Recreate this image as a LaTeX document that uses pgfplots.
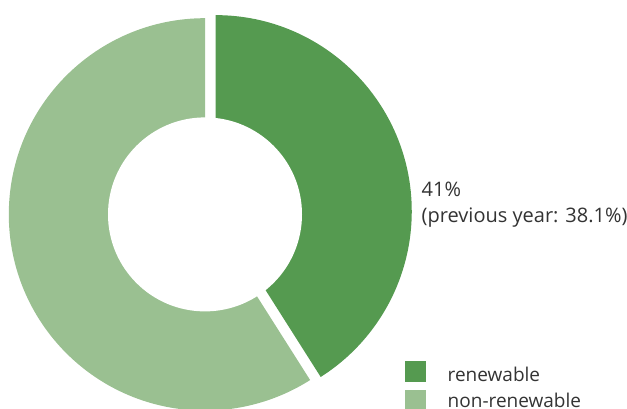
\documentclass[border=0pt]{standalone}
\usepackage{pgfplots}
\pgfplotsset{compat=1.18}
\usepackage{pgfplotstable}
\usepackage{fontspec}
\setmainfont{Open Sans}
\definecolor{renew}{HTML}{559A50}
\definecolor{nonrenew}{HTML}{9AC091}
\definecolor{txt}{HTML}{333333}

\pgfplotstableread{
label value
renewable 41
nonrenewable 59
}\piedata

\begin{document}%
\begin{tikzpicture}[x=1pt,y=1pt]
\pgfplotstablegetelem{0}{value}\of\piedata \let\vR\pgfplotsretval
\pgfplotstablegetelem{1}{value}\of\piedata \let\vN\pgfplotsretval
\pgfmathsetmacro\angR{\vR/(\vR+\vN)*360}
\pgfmathsetmacro\angN{\vN/(\vR+\vN)*360}
\pgfmathsetmacro\midR{90-\angR/2}
\pgfmathsetmacro\exX{205+11*cos(\midR)}
\pgfmathsetmacro\exY{194.6+11*sin(\midR)}
\begin{axis}[
  at={(0,0)}, anchor=south west,
  scale only axis, width=627pt, height=409pt,
  xmin=0, xmax=627, ymin=0, ymax=409,
  hide axis,
]
% non-renewable slice
\fill[nonrenew] (axis cs:205,194.6) -- +(90:196.2pt)
  arc[start angle=90, end angle={90+\angN}, radius=196.2pt] -- cycle;
% renewable slice (exploded)
\fill[renew] (axis cs:\exX,\exY) -- +(90:196.2pt)
  arc[start angle=90, end angle={90-\angR}, radius=196.2pt] -- cycle;
% hole
\fill[white] (axis cs:205,194.6) circle[radius=97pt];
% labels
\node[anchor=base west, inner sep=0pt, text=txt, font=\fontsize{20}{24}\selectfont]
  at (axis cs:421.5,212) {41\%};
\node[anchor=base west, inner sep=0pt, text=txt, font=\fontsize{20}{24}\selectfont]
  at (axis cs:421.5,186) {(previous year: 38.1\%)};
% legend
\fill[renew] (axis cs:405,27) rectangle (axis cs:426,48);
\fill[nonrenew] (axis cs:405,-10) rectangle (axis cs:426,19);
\node[anchor=base west, inner sep=0pt, text=txt, font=\fontsize{19}{23}\selectfont]
  at (axis cs:447.5,27.3) {renewable};
\node[anchor=base west, inner sep=0pt, text=txt, font=\fontsize{19}{23}\selectfont]
  at (axis cs:447.5,1.3) {non-renewable};
\end{axis}
\pgfresetboundingbox
\path[use as bounding box] (0,0) rectangle (627,409);
\end{tikzpicture}%
\end{document}
